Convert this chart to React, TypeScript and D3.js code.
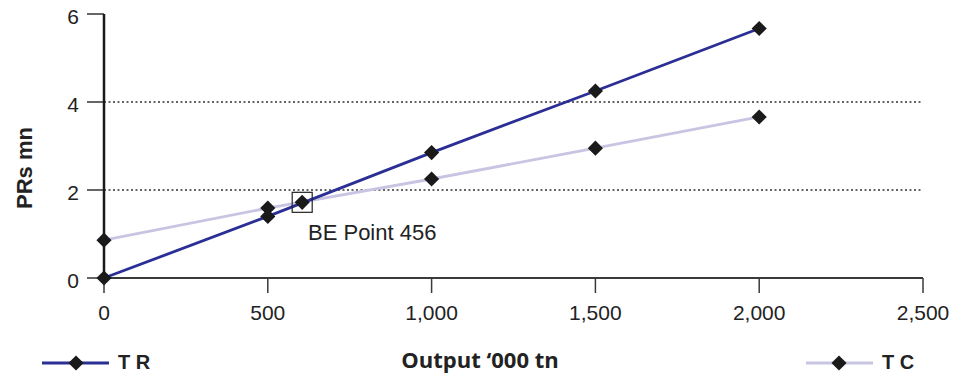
import React from "react";
import { scaleLinear, line, symbol, symbolSquare } from "d3";

const outputs = [0, 500, 1000, 1500, 2000];
const totalRevenue = [0, 1.4, 2.85, 4.25, 5.67];
const totalCost = [0.86, 1.59, 2.25, 2.95, 3.66];
const xTicks = [0, 500, 1000, 1500, 2000, 2500];
const yTicks = [0, 2, 4, 6];
const gridValues = [2, 4];
const breakEven = { x: 605, y: 1.72, label: "BE Point 456" };

const W = 967;
const H = 378;
const font = "Arial, 'Liberation Sans', Helvetica, sans-serif";
const titleFont = "'Open Sans', Arial, sans-serif";
const trColor = "#2b2f95";
const tcColor = "#c8c5e3";

const App = () => {
  const x = scaleLinear().domain([0, 2500]).range([104, 923]);
  const y = scaleLinear().domain([0, 6]).range([278, 14]);

  // square turned 45 degrees -> diamond ~15px across
  const diamond = symbol().type(symbolSquare).size(115)();
  const marker = (cx: number, cy: number) => `translate(${cx},${cy}) rotate(45)`;
  const path = line<number>()
    .x((_, i) => x(outputs[i]))
    .y((d) => y(d));

  const fmt = (v: number) => v.toLocaleString("en-US");

  return (
    <svg width={W} height={H} style={{ position: "absolute", left: 0, top: 0 }}>
      {/* gridlines */}
      {gridValues.map((g) => (
        <line key={g} x1={x(0)} x2={x(2500)} y1={y(g)} y2={y(g)}
          stroke="#333" strokeWidth={1.3} strokeDasharray="2,2.5" />
      ))}

      {/* y ticks */}
      {yTicks.map((t) => (
        <g key={t}>
          <line x1={87} x2={x(0)} y1={y(t)} y2={y(t)} stroke="#333" strokeWidth={1.5} />
          <text x={79} y={y(t) + 10} textAnchor="end" fontFamily={font} fontSize={21} fill="#222">{t}</text>
        </g>
      ))}

      {/* x axis */}
      <line x1={x(0)} x2={x(2500)} y1={y(0)} y2={y(0)} stroke="#3a3a3a" strokeWidth={2} />
      {xTicks.map((t) => (
        <g key={t}>
          <line x1={x(t)} x2={x(t)} y1={y(0)} y2={y(0) + 15} stroke="#3a3a3a" strokeWidth={1.5} />
          <text x={x(t)} y={320} textAnchor="middle" fontFamily={font} fontSize={21} fill="#222">{fmt(t)}</text>
        </g>
      ))}
      {/* y axis */}
      <line x1={x(0)} x2={x(0)} y1={y(6)} y2={y(0)} stroke="#1a1a1a" strokeWidth={2.5} />

      {/* series lines */}
      <path d={path(totalCost) ?? ""} fill="none" stroke={tcColor} strokeWidth={2.8} />
      <path d={path(totalRevenue) ?? ""} fill="none" stroke={trColor} strokeWidth={2.8} />

      {/* markers */}
      {totalCost.map((v, i) => (
        <path key={"c" + i} d={diamond} transform={marker(x(outputs[i]), y(v))} fill="#1a1a1a" />
      ))}
      {totalRevenue.map((v, i) => (
        <path key={"r" + i} d={diamond} transform={marker(x(outputs[i]), y(v))} fill="#1a1a1a" />
      ))}

      {/* break-even point */}
      <rect x={x(breakEven.x) - 10} y={y(breakEven.y) - 10} width={20} height={20} fill="none" stroke="#222" strokeWidth={1.2} />
      <path d={diamond} transform={marker(x(breakEven.x), y(breakEven.y))} fill="#1a1a1a" />
      <text x={308} y={240} fontFamily={font} fontSize={22} fill="#222">{breakEven.label}</text>

      {/* axis titles */}
      <text transform={`translate(32,168) rotate(-90)`} textAnchor="middle" fontFamily={font} fontSize={22} fontWeight="bold" fill="#222">PRs mn</text>
      <text x={480} y={368} textAnchor="middle" fontFamily={titleFont} fontSize={22} fontWeight="bold" fill="#222">Output ‘000 tn</text>

      {/* legend */}
      <line x1={42} x2={109} y1={363} y2={363} stroke={trColor} strokeWidth={2.8} />
      <path d={diamond} transform={marker(76, 363)} fill="#1a1a1a" />
      <text x={118} y={369} fontFamily={font} fontSize={20} fontWeight="bold" fill="#222">T R</text>

      <line x1={806} x2={873} y1={363} y2={363} stroke={tcColor} strokeWidth={2.8} />
      <path d={diamond} transform={marker(839, 363)} fill="#1a1a1a" />
      <text x={882} y={369} fontFamily={font} fontSize={20} fontWeight="bold" fill="#222">T C</text>
    </svg>
  );
};

export default App;
